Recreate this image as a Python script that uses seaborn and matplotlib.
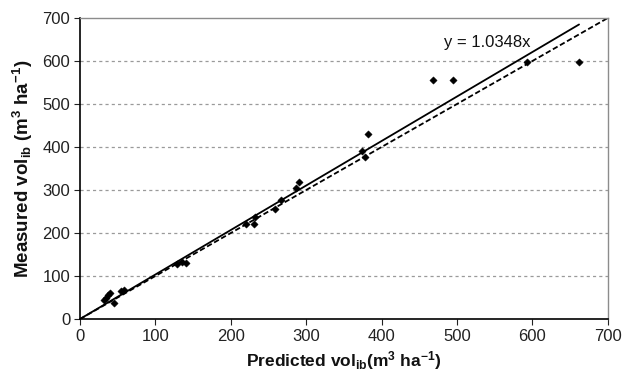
import matplotlib
matplotlib.use("Agg")
import matplotlib.pyplot as plt
import seaborn as sns
import numpy as np
import pandas as pd

predicted = [32, 35, 37, 40, 45, 55, 58, 128, 135, 140, 220, 231, 232, 259, 266,
             286, 291, 374, 378, 382, 468, 495, 593, 662]
measured = [45, 50, 56, 60, 38, 64, 67, 128, 133, 130, 222, 221, 238, 255, 277,
            305, 319, 391, 376, 430, 556, 556, 598, 598]
slope = 1.0348
fit_x = [0, 662]
one_x = [0, 700]
ticks = [0, 100, 200, 300, 400, 500, 600, 700]

sns.set_theme(style="white")
plt.rcParams['font.family'] = ['Liberation Sans', 'DejaVu Sans']
plt.rcParams['mathtext.default'] = 'regular'

fig = plt.figure(figsize=(6.35, 3.76), dpi=100)
ax = fig.add_axes([0.126, 0.1516, 0.831, 0.8004])

df = pd.DataFrame({"Predicted": predicted, "Measured": measured})

for yv in ticks[1:-1]:
    ax.axhline(yv, color="#9a9a9a", lw=0.9, ls=(0, (2.5, 2.5)), zorder=0)

sns.lineplot(x=one_x, y=one_x, ax=ax, color="black", lw=1.3,
             linestyle=(0, (3, 1.5)), zorder=2)
sns.lineplot(x=fit_x, y=[slope * v for v in fit_x], ax=ax, color="black",
             lw=1.3, zorder=3)
sns.scatterplot(data=df, x="Predicted", y="Measured", ax=ax, marker="D",
                s=14, color="black", edgecolor="black", linewidth=0.3, zorder=4)

ax.text(540, 644, "y = 1.0348x", fontsize=12, ha="center", va="center",
        color="#111111")

ax.set_xlim(0, 700)
ax.set_ylim(0, 700)
ax.set_xticks(ticks)
ax.set_yticks(ticks)
ax.tick_params(axis="both", which="major", labelsize=12, length=4, width=0.8,
               direction="out", bottom=True, left=True, pad=3)
ax.tick_params(axis="both", colors="#222222")

for side in ["left", "bottom"]:
    ax.spines[side].set_color("black")
    ax.spines[side].set_linewidth(1.2)
for side in ["top", "right"]:
    ax.spines[side].set_color("#8c8c8c")
    ax.spines[side].set_linewidth(1.0)

ax.set_xlabel("Predicted vol$_{ib}$(m$^3$ ha$^{-1}$)", fontsize=12.5,
              fontweight="bold", labelpad=4, color="#111111")
ax.set_ylabel("Measured vol$_{ib}$ (m$^3$ ha$^{-1}$)", fontsize=13.5,
              fontweight="bold", labelpad=5, color="#111111")

fig.savefig("out.png", dpi=100)
